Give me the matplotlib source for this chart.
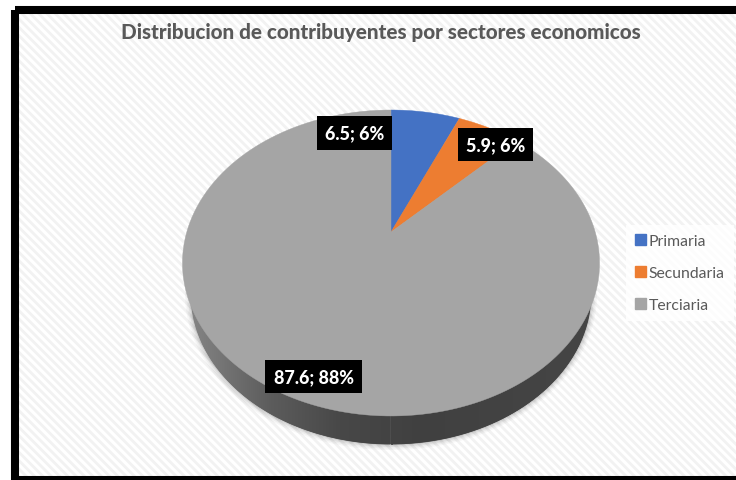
import numpy as np
from matplotlib import pyplot as plt
from matplotlib.patches import Rectangle

title = 'Distribucion de contribuyentes por sectores economicos'
sectors = ['Primaria', 'Secundaria', 'Terciaria']
values = [6.5, 5.9, 87.6]
colors = ['#4472C4', '#ED7D31', '#A5A5A5']

plt.rcParams['font.family'] = ['Lato', 'DejaVu Sans']
plt.rcParams['hatch.linewidth'] = 2.0

# pie is tilted, so unit circle goes through a perspective map to pixels
CX, CY = 391, 233


def to_pixels(theta):
    """clockwise from 12 o'clock, radians"""
    u = np.sin(theta)
    v = np.cos(theta)
    w = 0.2026 * v + 1
    return CX + 204.2 * u / w, (CY - 99.5 * v) / w


def rim_bottom(x):
    """lower edge of the side wall, an ellipse a bit narrower than the top"""
    return 295 + 150 * np.sqrt(1 - ((x - CX) / 200) ** 2)


fig = plt.figure(figsize=(7.36, 4.81), dpi=100)
ax = fig.add_axes([0, 0, 1, 1])
ax.set_xlim(0, 736)
ax.set_ylim(481, 0)
ax.axis('off')

# striped background, then the black frame
ax.add_patch(Rectangle((15, 11), 730, 470, facecolor='white', edgecolor='#f2f2f2',
                       linewidth=0, hatch='\\\\\\\\', zorder=0))
ax.add_patch(Rectangle((15, 11), 730, 470, facecolor='none', edgecolor='black',
                       linewidth=5.8, zorder=0.5))

# soft shadow under the pie
ring = np.linspace(0, 2 * np.pi, 361)
for grow, alpha in zip([6, 4.5, 3, 1.5], [0.03, 0.04, 0.06, 0.08]):
    ax.fill(CX + (200 + grow) * np.sin(ring), 295 + (150 + grow) * np.cos(ring),
            color='black', alpha=alpha, lw=0, zorder=1)

# side of the pie, lighter towards the left
strip_x = np.arange(CX - 199.5, CX + 200, 1.0)
for x0, x1 in zip(strip_x[:-1], strip_x[1:]):
    shade = np.interp(x0, [190, 270, 340, 420, 592], [0.52, 0.36, 0.28, 0.25, 0.27])
    ax.fill([x0, x1, x1, x0], [280, 280, rim_bottom(x1), rim_bottom(x0)],
            color=str(shade), lw=0.6, zorder=2)

# top of the pie
edges = np.cumsum([0] + values) / sum(values) * 2 * np.pi
for i in range(len(values)):
    theta = np.linspace(edges[i], edges[i + 1], 200)
    x, y = to_pixels(theta)
    ax.fill(np.r_[CX, x], np.r_[CY, y], color=colors[i], lw=0.3, zorder=3)

# data labels
label_pos = [(354.5, 134), (495.5, 145.5), (313.5, 377.5)]
for v, pos in zip(values, label_pos):
    ax.text(pos[0], pos[1], '{}; {:.0f}%'.format(v, v), color='white', fontsize=13,
            fontweight='black', ha='center', va='center', zorder=5,
            bbox=dict(facecolor='black', edgecolor='none', pad=5.8))

ax.text(381, 33, title, color='#595959', fontsize=14.9, fontweight='black',
        ha='center', va='center', zorder=5)

handles = [Rectangle((0, 0), 1, 1, color=c) for c in colors]
ax.legend(handles, sectors, loc='center left', bbox_to_anchor=(626 / 736, 1 - 274 / 481),
          frameon=True, facecolor='white', edgecolor='none', framealpha=0.8, fancybox=False,
          fontsize=11.3, labelcolor='#595959', labelspacing=1.15, handlelength=0.65,
          handleheight=0.65, handletextpad=0.2, borderpad=0.6, borderaxespad=0)

fig.savefig('out.png', dpi=100)
